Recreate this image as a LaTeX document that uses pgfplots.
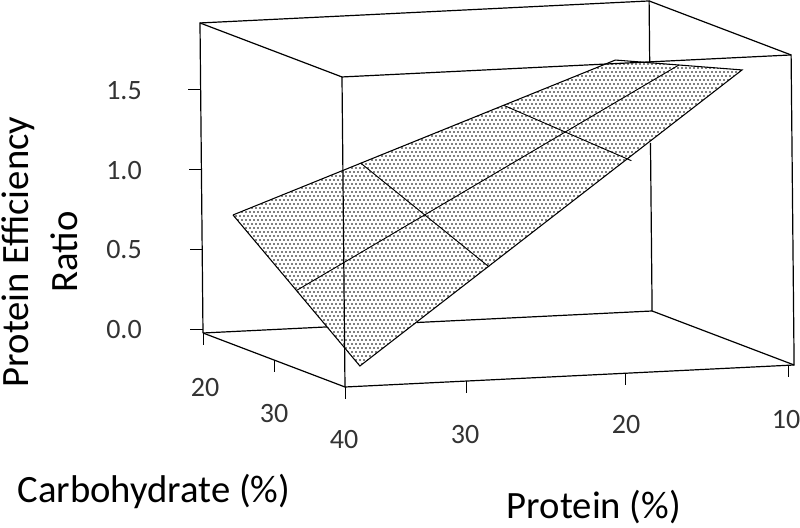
\documentclass[border=0pt]{standalone}
\usepackage{pgfplots}
\pgfplotsset{compat=1.18}
\usepackage{fontspec}
\setmainfont{Carlito}
\usetikzlibrary{patterns}

% staggered stipple, dots about 4px apart each way
\pgfdeclarepatternformonly{stipple}{\pgfqpoint{-1pt}{-1pt}}{\pgfqpoint{4pt}{7pt}}{\pgfqpoint{3pt}{6pt}}{%
  \pgfpathcircle{\pgfqpoint{0pt}{0pt}}{0.58pt}
  \pgfpathcircle{\pgfqpoint{1.5pt}{3pt}}{0.58pt}
  \pgfusepath{fill}}

\begin{document}
\begin{tikzpicture}
\begin{axis}[
  hide axis,clip=false,
  x={(-11.08pt,-0.543pt)},y={(5.325pt,-2.025pt)},z={(-1.155pt,119.55pt)},
  xmin=9.6,xmax=40,ymin=20,ymax=40,zmin=-0.025,zmax=1.92]

% back edges of the box, broken where the surface covers them
\addplot3[black,line width=0.9pt] coordinates {(40,20,-0.025) (40,20,1.92) (9.6,20,1.92) (9.6,20,1.537)};
\addplot3[black,line width=0.9pt] coordinates {(9.6,20,1.029) (9.6,20,-0.025) (25.5,20,-0.025)};
\addplot3[black,line width=0.9pt] coordinates {(31.6,20,-0.025) (40,20,-0.025)};
\addplot3[black,line width=0.9pt] coordinates {(40,20,1.92) (40,40,1.92)};
\addplot3[black,line width=0.9pt] coordinates {(9.6,20,1.92) (9.6,40,1.92)};
\addplot3[black,line width=0.9pt] coordinates {(40,20,-0.025) (40,40,-0.025)};
\addplot3[black,line width=0.9pt] coordinates {(9.6,20,-0.025) (9.6,40,-0.025)};

% fitted surface
\addplot3[black,line width=0.8pt,pattern=stipple] coordinates {
  (38.37,21,0.725) (12.4,21,1.579) (12.45,39,1.822) (38.5,39,0.083) (38.37,21,0.725)};
\addplot3[black,line width=0.7pt] coordinates {(38.43,30,0.404) (12.42,30,1.70)};
\addplot3[black,line width=0.7pt] coordinates {(29.7,21,1.011) (29.7,39,0.665)};
\addplot3[black,line width=0.7pt] coordinates {(20,21,1.330) (20,39,1.287)};

% front edges
\addplot3[black,line width=0.9pt] coordinates {
  (40,40,-0.025) (40,40,1.92) (9.6,40,1.92) (9.6,40,-0.025) (40,40,-0.025)};

% ticks
\draw[black,line width=0.7pt] (axis cs:40,20,1.5) -- ++(-9.5pt,0pt);
\draw[black,line width=0.7pt] (axis cs:40,20,1) -- ++(-9.5pt,0pt);
\draw[black,line width=0.7pt] (axis cs:40,20,0.5) -- ++(-9.5pt,0pt);
\draw[black,line width=0.7pt] (axis cs:40,20,0) -- ++(-9.5pt,0pt);
\draw[black,line width=0.7pt] (axis cs:40,20,-0.025) -- ++(0pt,-9pt);
\draw[black,line width=0.7pt] (axis cs:40,30,-0.025) -- ++(0pt,-9pt);
\draw[black,line width=0.7pt] (axis cs:40,40,-0.025) -- ++(0pt,-9pt);
\draw[black,line width=0.7pt] (axis cs:31.8,40,-0.025) -- ++(0pt,-9pt);
\draw[black,line width=0.7pt] (axis cs:21,40,-0.025) -- ++(0pt,-9pt);
\draw[black,line width=0.7pt] (axis cs:10,40,-0.025) -- ++(0pt,-9pt);

\coordinate (fl) at (axis cs:40,40,-0.025);
\end{axis}
\pgfresetboundingbox
\path[use as bounding box] (fl) ++(-258.75pt,-105.75pt) coordinate (o) rectangle ++(600pt,396pt);

% text, placed in reference pixels (1px = 0.75pt)
\begin{scope}[shift={(o)},x=0.75pt,y=-0.75pt,yshift=396pt]
\begin{scope}[every node/.style={font=\fontsize{21pt}{24pt}\selectfont,text=black!80,inner sep=0pt}]
\node at (124,91) {1.5};
\node at (124,171) {1.0};
\node at (124,250) {0.5};
\node at (124,330) {0.0};
\node at (205,388) {20};
\node at (274,414) {30};
\node at (344,440) {40};
\node at (465,435) {30};
\node at (626,425) {20};
\node at (786,420) {10};
\end{scope}
\begin{scope}[every node/.style={font=\fontsize{29pt}{32pt}\selectfont,inner sep=0pt}]
\node[rotate=90] at (18,252) {Protein Efficiency};
\node[rotate=90] at (64,252) {Ratio};
\node at (154,491) {Carbohydrate (\%)};
\node at (594,507) {Protein (\%)};
\end{scope}
\end{scope}
\end{tikzpicture}
\end{document}
